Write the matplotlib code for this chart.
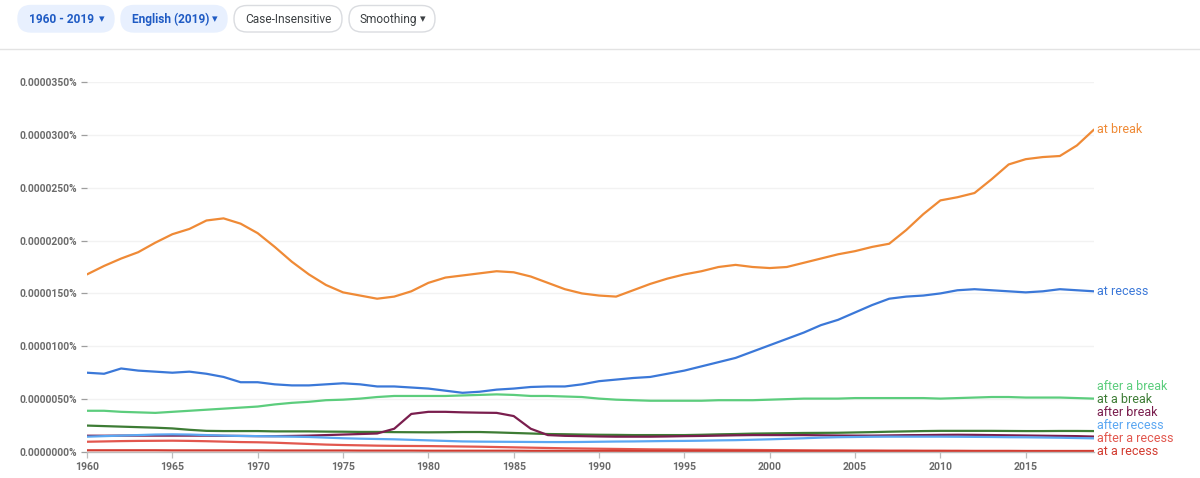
import numpy as np
import matplotlib
matplotlib.use('Agg')
import matplotlib.pyplot as plt
from matplotlib.patches import FancyBboxPatch

plt.rcParams['font.family'] = ['Roboto', 'DejaVu Sans']

# values in units of 0.0000001 %
years = list(range(1960, 2020))

at_break = [168, 176, 183, 189, 198, 206, 211, 219, 221, 216,
            207, 194, 180, 168, 158, 151, 148, 145, 147, 152,
            160, 165, 167, 169, 171, 170, 166, 160, 154, 150,
            148, 147, 153, 159, 164, 168, 171, 175, 177, 175,
            174, 175, 179, 183, 187, 190, 194, 197, 210, 225,
            238, 241, 245, 258, 272, 277, 279, 280, 290, 305]
at_recess = [75, 74, 79, 77, 76, 75, 76, 74, 71, 66,
             66, 64, 63, 63, 64, 65, 64, 62, 62, 61,
             60, 58, 56, 57, 59, 60, 61.5, 62, 62, 64,
             67, 68.5, 70, 71, 74, 77, 81, 85, 89, 95,
             101, 107, 113, 120, 125, 132, 139, 145, 147, 148,
             150, 153, 154, 153, 152, 151, 152, 154, 153, 152]
after_a_break = [39, 39, 38, 37.5, 37, 38, 39, 40, 41, 42,
                 43, 45, 46.5, 47.5, 49, 49.5, 50.5, 52, 53, 53,
                 53, 53, 53.5, 54, 54.5, 54, 53, 53, 52.5, 52,
                 50.5, 49.5, 49, 48.5, 48.5, 48.5, 48.5, 49, 49, 49,
                 49.5, 50, 50.5, 50.5, 50.5, 51, 51, 51, 51, 51,
                 50.5, 51, 51.5, 52, 52, 51.5, 51.5, 51.5, 51, 50.5]
at_a_break = [25, 24.5, 24, 23.5, 23, 22.3, 21, 20, 19.8, 19.8,
              19.8, 19.5, 19.5, 19.5, 19.3, 19.2, 19, 19, 18.8, 18.7,
              18.6, 18.7, 18.9, 18.9, 18.5, 18, 17.5, 17, 16.8, 16.5,
              16.3, 16.2, 16, 16, 16, 16, 16.3, 16.7, 17, 17.4,
              17.6, 17.8, 18, 18.1, 18.2, 18.5, 18.8, 19.2, 19.5, 19.8,
              20, 20, 20, 20, 19.9, 19.8, 19.8, 19.9, 19.9, 19.8]
after_break = [15.4, 15.4, 15.5, 15.5, 15.5, 15.5, 15.5, 15.5, 15.3, 15.2,
               15, 15, 15.2, 15.5, 16, 16.5, 17, 17.5, 22, 36,
               38, 38, 37.5, 37.2, 37, 34, 22, 16, 15.3, 15,
               14.7, 14.5, 14.5, 14.5, 14.7, 15, 15.2, 15.5, 15.8, 16,
               16, 16, 16, 15.8, 15.6, 15.5, 15.5, 15.7, 15.9, 16,
               16.2, 16.3, 16.2, 16, 15.8, 15.6, 15.4, 15.2, 15, 14.6]
after_recess = [14.5, 15, 15.5, 16, 16.5, 16.7, 16.5, 16, 15.5, 15.2,
                15, 14.8, 14.5, 14.2, 13.6, 13, 12.6, 12.3, 12, 11.5,
                11, 10.5, 10, 9.8, 9.7, 9.6, 9.5, 9.4, 9.4, 9.5,
                9.7, 9.9, 10, 10.2, 10.4, 10.5, 10.7, 11, 11.2, 11.6,
                12, 12.5, 13, 13.6, 14, 14.2, 14.4, 14.5, 14.5, 14.5,
                14.5, 14.4, 14.3, 14.2, 14, 13.9, 13.7, 13.5, 13.2, 12.9]
after_a_recess = [9.7, 10, 10.3, 10.5, 10.6, 10.7, 10.5, 10.2, 9.8, 9.4,
                  9.2, 8.8, 8.2, 7.6, 7, 6.6, 6.3, 6, 5.8, 5.7,
                  5.6, 5.4, 5.2, 5.0, 4.7, 4.4, 4.1, 3.8, 3.5, 3.3,
                  3.1, 2.9, 2.7, 2.5, 2.4, 2.3, 2.2, 2.1, 2, 1.9,
                  1.8, 1.7, 1.6, 1.5, 1.5, 1.4, 1.4, 1.3, 1.3, 1.2,
                  1.2, 1.2, 1.1, 1.1, 1.1, 1.0, 1.0, 1.0, 1.0, 1.0]
at_a_recess = [1.6, 1.6, 1.6, 1.6, 1.6, 1.5, 1.5, 1.5, 1.5, 1.5,
               1.5, 1.4, 1.4, 1.4, 1.4, 1.4, 1.3, 1.3, 1.3, 1.3,
               1.2, 1.2, 1.2, 1.2, 1.2, 1.2, 1.1, 1.1, 1.1, 1.1,
               1.1, 1.1, 1.0, 1.0, 1.0, 1.0, 1.0, 1.0, 1.0, 1.0,
               0.9, 0.9, 0.9, 0.9, 0.9, 0.9, 0.9, 0.9, 0.9, 0.9,
               0.9, 0.8, 0.8, 0.8, 0.8, 0.8, 0.8, 0.8, 0.8, 0.8]

series_names = ['at break', 'at recess', 'after a break', 'at a break',
                'after break', 'after recess', 'after a recess', 'at a recess']
series_data = [at_break, at_recess, after_a_break, at_a_break,
               after_break, after_recess, after_a_recess, at_a_recess]
colors = ['#ef8a36', '#3b78d8', '#5ccd7d', '#3d7c35',
          '#7a1e4e', '#5ba7f2', '#e2574e', '#d23b30']

yticks = [0, 50, 100, 150, 200, 250, 300, 350]
xticks = list(range(1960, 2016, 5))

W, H = 1200, 478
fig = plt.figure(figsize=(W / 100, H / 100), dpi=100)

# top bar with the controls
top = fig.add_axes([0, 0, 1, 1])
top.set_xlim(0, W)
top.set_ylim(H, 0)
top.axis('off')
pills = [(18, 114, '1960 - 2019', True, True),
         (121, 227, 'English (2019)', True, True),
         (234, 342, 'Case-Insensitive', False, False),
         (349, 435, 'Smoothing', False, True)]
for x0, x1, txt, active, caret in pills:
    fc = '#e8f0fe' if active else 'white'
    ec = '#e8f0fe' if active else '#dadce0'
    tc = '#1f5bc4' if active else '#3c4043'
    top.add_patch(FancyBboxPatch((x0, 5.5), x1 - x0, 26.5,
                                 boxstyle='round,pad=0,rounding_size=13',
                                 fc=fc, ec=ec, lw=1))
    top.text(x0 + 11, 19, txt, fontsize=8.6, color=tc, va='center', ha='left',
             weight='bold' if active else 'normal')
    if caret:
        top.text(x1 - 12, 19.5, '\u25be', fontsize=8, color=tc, va='center',
                 ha='center', family=['DejaVu Sans'])
top.plot([0, W], [48.5, 48.5], color='#e3e3e3', lw=1)

# chart
ax = fig.add_axes([87 / W, (H - 452) / H, (1094 - 87) / W, (452 - 82) / H])
for name, vals, c in zip(series_names, series_data, colors):
    ax.plot(years, vals, color=c, lw=1.6, solid_capstyle='round')

ax.set_xlim(1960, 2019)
ax.set_ylim(0, 350)
ax.set_yticks(yticks)
ax.set_yticklabels(['%.7f%%' % (v * 1e-7) for v in yticks])
ax.set_xticks(xticks)
ax.set_xticklabels([str(x) for x in xticks])
for s in ['top', 'right', 'left']:
    ax.spines[s].set_visible(False)
ax.spines['bottom'].set_color('#bdbdbd')
ax.spines['bottom'].set_linewidth(1)
ax.tick_params(axis='y', length=4, width=0.9, color='#9e9e9e', pad=3,
               labelsize=7.4, labelcolor='#6b6b6b')
ax.tick_params(axis='x', length=4, width=0.9, color='#bdbdbd', pad=3,
               labelsize=7.6, labelcolor='#6b6b6b')
for lab in ax.get_xticklabels() + ax.get_yticklabels():
    lab.set_fontweight('bold')
ax.yaxis.grid(True, color='#f2f2f2', lw=1)
ax.set_axisbelow(True)
ax.patch.set_alpha(0)

# end labels, pushed apart so they do not overlap
order = sorted(range(len(series_data)), key=lambda i: series_data[i][-1])
gap = 12.3
prev = -1e9
label_y = {}
for i in order:
    y = max(series_data[i][-1], prev + gap)
    label_y[i] = y
    prev = y
for i in order:
    ax.annotate(series_names[i], xy=(years[-1], label_y[i]), xytext=(2.5, 0),
                textcoords='offset points', va='center', ha='left',
                fontsize=9, color=colors[i], annotation_clip=False)

fig.savefig('out.png', dpi=100)
